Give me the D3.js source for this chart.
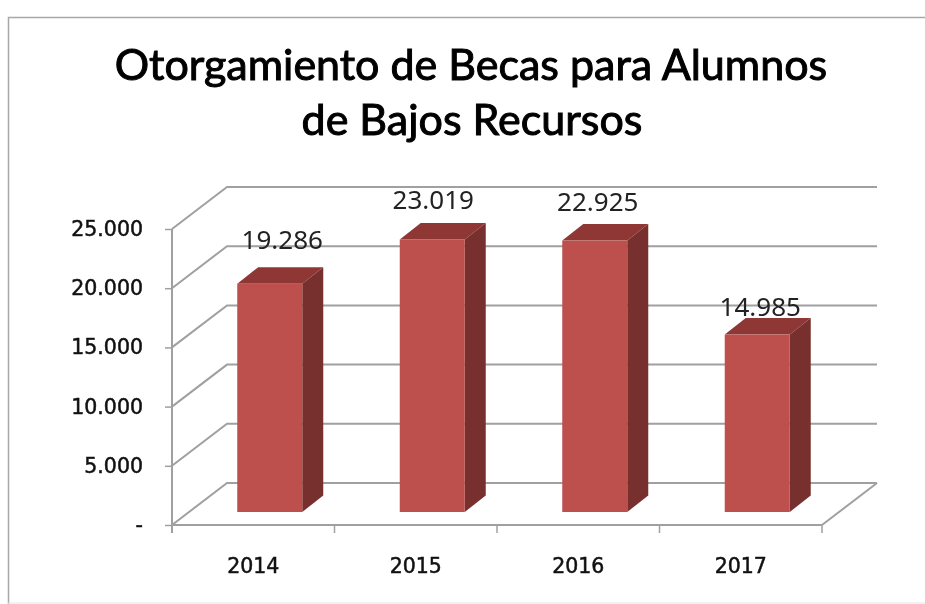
<!DOCTYPE html>
<html>
<head>
<meta charset="utf-8">
<script src="https://cdn.jsdelivr.net/npm/d3@7"></script>
<style>
  html, body { margin: 0; padding: 0; background: #fff; }
  svg { display: block; filter: blur(0.4px); }
  .domain { display: none; }
</style>
</head>
<body>
<div id="chart"></div>
<script>
var titleLines = ["Otorgamiento de Becas para Alumnos", "de Bajos Recursos"];
var years = ["2014", "2015", "2016", "2017"];
var becas = [19286, 23019, 22925, 14985];
var yTicks = [0, 5000, 10000, 15000, 20000, 25000];

var width = 925, height = 604;
var gridColor = "#a0a0a0";

var svg = d3.select("#chart").append("svg")
    .attr("width", width)
    .attr("height", height);

// outer frame, only top and left are inside the picture
svg.append("path")
    .attr("d", "M8.5," + height + "V17.5H" + width)
    .attr("fill", "none")
    .attr("stroke", "#a8a8a8")
    .attr("stroke-width", 1.5);
svg.append("line")
    .attr("x1", 8).attr("x2", width)
    .attr("y1", 603).attr("y2", 603)
    .attr("stroke", "#e4e4e4");

svg.selectAll(".title")
    .data(titleLines)
    .enter().append("text")
    .attr("class", "title")
    .attr("x", function(d, i) { return i == 0 ? 471 : 472; })
    .attr("y", function(d, i) { return i == 0 ? 80 : 135; })
    .attr("text-anchor", "middle")
    .attr("font-family", "Lato")
    .attr("font-size", 43)
    .attr("fill", "#000")
    .attr("stroke", "#000")
    .attr("stroke-width", 1)
    .text(function(d) { return d; });

// scales
var x = d3.scaleBand().domain(years).range([172, 822]);
var y = d3.scaleLinear().domain([0, 25000]).range([525, 229]);

// the floor and back wall are shifted from the front plane
var wallDx = 55, wallDy = -42;
var barDx = 16.5, barDy = -13;
var depthDx = 21, depthDy = -16.5;
var barWidth = 65;

var grid = svg.append("g")
    .attr("fill", "none")
    .attr("stroke", gridColor)
    .attr("stroke-width", 2);

grid.selectAll(".grid")
    .data(yTicks)
    .enter().append("path")
    .attr("class", "grid")
    .attr("d", function(d) {
        return "M172," + y(d) + "L" + (172 + wallDx) + "," + (y(d) + wallDy) + "H" + (822 + wallDx);
    });

// floor edge on the right side
grid.append("path")
    .attr("d", "M822," + y(0) + "L" + (822 + wallDx) + "," + (y(0) + wallDy));

// axes
var yAxis = d3.axisLeft(y)
    .tickValues(yTicks)
    .tickSize(7)
    .tickPadding(22)
    .tickFormat(function(d) { return d == 0 ? "-" : d3.format(",")(d).replace(",", "."); });

var yG = svg.append("g")
    .attr("transform", "translate(172,0)")
    .call(yAxis);

var xAxis = d3.axisBottom(x)
    .tickSize(0)
    .tickPadding(33);

var xG = svg.append("g")
    .attr("transform", "translate(0,525)")
    .call(xAxis);

svg.selectAll(".tick text")
    .attr("font-family", "DejaVu Sans")
    .attr("font-size", 20.5)
    .attr("fill", "#111")
    .attr("stroke", "#111")
    .attr("stroke-width", 0.5);

yG.selectAll(".tick line")
    .attr("stroke", gridColor)
    .attr("stroke-width", 1.5);

svg.append("path")
    .attr("d", "M172," + y(25000) + "V" + (y(0) + 8))
    .attr("stroke", gridColor)
    .attr("stroke-width", 2);
svg.append("path")
    .attr("d", "M172," + y(0) + "H822")
    .attr("stroke", gridColor)
    .attr("stroke-width", 2);

svg.append("g").selectAll(".sep")
    .data(years)
    .enter().append("line")
    .attr("class", "sep")
    .attr("x1", function(d) { return x(d) + x.step(); })
    .attr("x2", function(d) { return x(d) + x.step(); })
    .attr("y1", y(0))
    .attr("y2", y(0) + 8)
    .attr("stroke", gridColor)
    .attr("stroke-width", 1.5);

// bars: front, top and side faces
var bars = svg.selectAll(".bar")
    .data(becas)
    .enter().append("g")
    .attr("class", "bar");

function left(i) { return x(years[i]) + x.bandwidth() / 2 + barDx - barWidth / 2; }

bars.append("path")
    .attr("fill", "#8e3735")
    .attr("d", function(d, i) {
        var l = left(i), t = y(d) + barDy;
        return "M" + l + "," + t + "l" + depthDx + "," + depthDy + "h" + barWidth + "l" + (-depthDx) + "," + (-depthDy) + "z";
    });

bars.append("path")
    .attr("fill", "#78302e")
    .attr("d", function(d, i) {
        var r = left(i) + barWidth, t = y(d) + barDy, b = y(0) + barDy;
        return "M" + r + "," + t + "l" + depthDx + "," + depthDy + "V" + (b + depthDy) + "L" + r + "," + b + "z";
    });

bars.append("rect")
    .attr("fill", "#bd504d")
    .attr("x", function(d, i) { return left(i); })
    .attr("y", function(d) { return y(d) + barDy; })
    .attr("width", barWidth)
    .attr("height", function(d) { return y(0) - y(d); });

// value labels were moved by hand in the original
var labelNudge = [[12.5, -35], [1, -30], [3, -30], [3, -19]];

svg.selectAll(".value")
    .data(becas)
    .enter().append("text")
    .attr("class", "value")
    .attr("x", function(d, i) { return left(i) + barWidth / 2 + labelNudge[i][0]; })
    .attr("y", function(d, i) { return y(d) + barDy + labelNudge[i][1]; })
    .attr("text-anchor", "middle")
    .attr("font-family", "Noto Sans")
    .attr("font-size", 26)
    .attr("fill", "#222")
    .text(function(d) { return d3.format(",")(d).replace(",", "."); });
</script>
</body>
</html>
